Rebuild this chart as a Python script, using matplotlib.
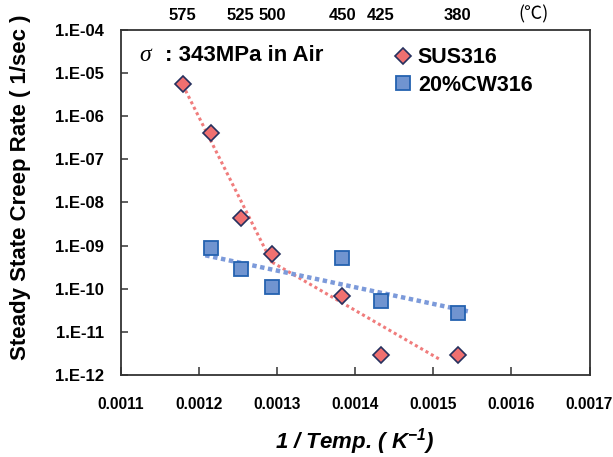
import numpy as np
import matplotlib
matplotlib.use("Agg")
import matplotlib.pyplot as plt
from matplotlib.ticker import FixedLocator, FuncFormatter

plt.rcParams['font.family'] = ['Liberation Sans', 'DejaVu Sans']
plt.rcParams['mathtext.fontset'] = 'custom'
plt.rcParams['mathtext.rm'] = 'Liberation Sans:bold:italic'
plt.rcParams['mathtext.it'] = 'Liberation Sans:bold:italic'
plt.rcParams['mathtext.bf'] = 'Liberation Sans:bold:italic'

# ---- data ----
sus_temp_c = [575, 550, 525, 500, 450, 425, 380]
sus_rate = [5.5e-6, 4.1e-7, 4.4e-9, 6.3e-10, 6.9e-11, 2.9e-12, 2.9e-12]
cw_temp_c = [550, 525, 500, 450, 425, 380]
cw_rate = [8.9e-10, 2.9e-10, 1.07e-10, 5.3e-10, 5.2e-11, 2.8e-11]
top_temp_labels = [575, 525, 500, 450, 425, 380]
x_ticks = [0.0011, 0.0012, 0.0013, 0.0014, 0.0015, 0.0016, 0.0017]
y_ticks = [1e-12, 1e-11, 1e-10, 1e-9, 1e-8, 1e-7, 1e-6, 1e-5, 1e-4]
# trend line segments: (first point index, last point index, x start, x end)
sus_trend_1 = (0, 4, 0.0011792, 0.0012937)
sus_trend_2 = (3, 7, 0.0012937, 0.00151)
cw_trend = (0, 6, 0.001208, 0.001547)

inv = lambda t: 1.0 / (np.asarray(t, float) + 273.0)
sus_x = inv(sus_temp_c)
cw_x = inv(cw_temp_c)

fig = plt.figure(figsize=(6.13, 4.57), dpi=100)
ax = fig.add_axes([121 / 613, (457 - 375) / 457, 468.5 / 613, 345 / 457])
ax.set_yscale('log')
ax.set_xlim(0.0011, 0.0017)
ax.set_ylim(1e-12, 1e-4)


def trend(xs, ys, seg, **kw):
    i0, i1, xa, xb = seg
    p = np.polyfit(xs[i0:i1], np.log10(ys[i0:i1]), 1)
    xx = np.linspace(xa, xb, 50)
    ax.plot(xx, 10 ** np.polyval(p, xx), **kw)


red_line = dict(color='#F07C7C', lw=2.2, linestyle=(0, (1, 1)), dash_capstyle='butt', zorder=2)
blue_line = dict(color='#7C9ADA', lw=3.2, linestyle=(0, (1, 0.8)), dash_capstyle='butt', zorder=2)
trend(sus_x, sus_rate, sus_trend_1, **red_line)
trend(sus_x, sus_rate, sus_trend_2, **red_line)
trend(cw_x, cw_rate, cw_trend, **blue_line)

ax.plot(sus_x, sus_rate, linestyle='none', marker='D', ms=8.5, mfc='#F07070',
        mec='#26305E', mew=1.2, zorder=4, label='SUS316')
ax.plot(cw_x, cw_rate, linestyle='none', marker='s', ms=10, mfc='#7094D0',
        mec='#2462B0', mew=1.3, zorder=3, label='20%CW316')

# axes styling
for s in ax.spines.values():
    s.set_color('#333333')
    s.set_linewidth(1.3)
ax.xaxis.set_major_locator(FixedLocator(x_ticks))
ax.yaxis.set_major_locator(FixedLocator(y_ticks))
ax.yaxis.set_minor_locator(FixedLocator([]))
ax.xaxis.set_major_formatter(FuncFormatter(lambda v, p: f"{v:.4f}"))
ax.yaxis.set_major_formatter(FuncFormatter(lambda v, p: f"1.E-{int(round(-np.log10(v))):02d}"))
ax.tick_params(axis='x', direction='in', length=6, width=1.1, color='#333333',
               pad=16, labelsize=11.2)
ax.tick_params(axis='y', direction='in', length=5, width=1.1, color='#333333',
               pad=12, labelsize=12)
for lab in ax.get_xticklabels() + ax.get_yticklabels():
    lab.set_fontweight('bold')

# top temperature labels
sec = ax.secondary_xaxis('top')
sec.set_xticks(inv(top_temp_labels))
sec.set_xticklabels([str(t) for t in top_temp_labels], fontweight='bold', fontsize=12)
sec.tick_params(length=0, pad=5)
sec.spines['top'].set_visible(False)
ax.text(0.881, 1.045, '(℃)', transform=ax.transAxes, ha='center', va='center',
        fontsize=13, family=['Noto Sans CJK JP', 'DejaVu Sans'])

ax.set_ylabel('Steady State Creep Rate ( 1/sec )', fontsize=16, fontweight='bold')
ax.yaxis.set_label_coords(-0.193, 0.545)
ax.set_xlabel(r'1 / Temp. ( K$^{-1}$)', fontsize=16, fontweight='bold', style='italic', labelpad=10)

# annotation
ax.text(0.052, 0.925, 'σ', transform=ax.transAxes, ha='center', va='center',
        fontsize=17, style='italic', family=['Liberation Serif', 'DejaVu Serif'])
ax.text(0.093, 0.925, ': 343MPa in Air', transform=ax.transAxes, ha='left', va='center',
        fontsize=16, fontweight='bold')

leg = ax.legend(loc='upper left', bbox_to_anchor=(0.56, 0.975), frameon=False,
                prop={'weight': 'bold', 'size': 15.5}, handletextpad=0.2,
                labelspacing=0.3, handlelength=1.0, borderaxespad=0)

fig.savefig('out.png', dpi=100)
